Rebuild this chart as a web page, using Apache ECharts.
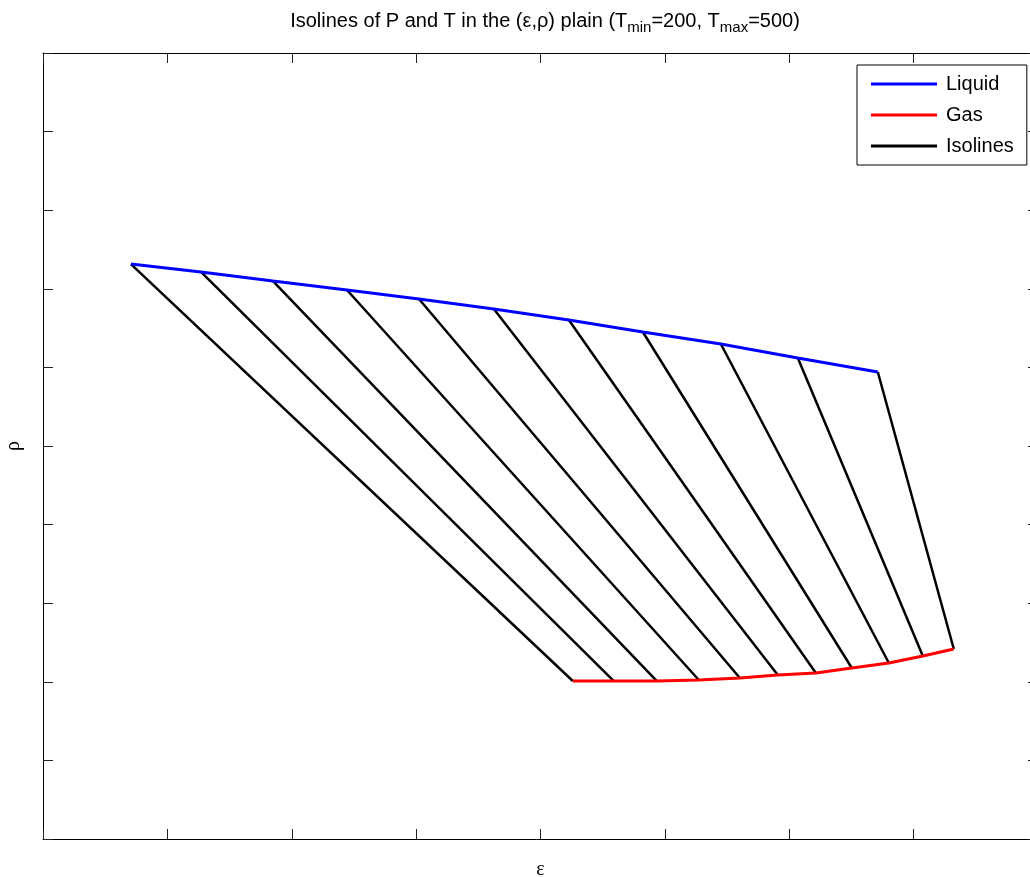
<!DOCTYPE html>
<html>
<head>
<meta charset="utf-8">
<script src="https://cdn.jsdelivr.net/npm/echarts@6/dist/echarts.min.js"></script>
<style>
  html, body { margin: 0; padding: 0; background: #fff; }
  #chart { width: 1030px; height: 877px; }
</style>
</head>
<body>
<div id="chart"></div>
<script>
// ends of the isolines on the liquid curve (eps, rho)
const liquidEps = [0.707, 1.270, 1.849, 2.444, 3.023, 3.625, 4.228, 4.823, 5.450, 6.069, 6.712]
const liquidRho = [7.315, 7.214, 7.099, 6.985, 6.870, 6.743, 6.603, 6.450, 6.298, 6.120, 5.941]
// ends of the isolines on the gas curve (eps, rho)
const gasEps = [4.260, 4.590, 4.936, 5.273, 5.603, 5.908, 6.214, 6.503, 6.801, 7.074, 7.323]
const gasRho = [2.010, 2.010, 2.010, 2.023, 2.048, 2.087, 2.112, 2.176, 2.239, 2.328, 2.417]

const liquid = liquidEps.map((x, i) => [x, liquidRho[i]])
const gas = gasEps.map((x, i) => [x, gasRho[i]])

const chart = echarts.init(document.getElementById('chart'))

function frameAxis(position, max) {
  return {
    type: 'value',
    position: position,
    min: 0,
    max: max,
    interval: 1,
    axisLine: { show: true, onZero: false, lineStyle: { color: '#000', width: 1 } },
    axisTick: { show: true, inside: true, length: 10, lineStyle: { color: '#222' } },
    axisLabel: { show: false },
    splitLine: { show: false },
  }
}

const series = [
  {
    name: 'Liquid',
    type: 'line',
    data: liquid,
    symbol: 'none',
    z: 5,
    lineStyle: { color: '#0000ff', width: 3 },
    itemStyle: { color: '#0000ff' },
  },
  {
    name: 'Gas',
    type: 'line',
    data: gas,
    symbol: 'none',
    z: 5,
    lineStyle: { color: '#ff0000', width: 3 },
    itemStyle: { color: '#ff0000' },
  },
]
// one black segment per isoline
liquid.forEach((p, i) => {
  series.push({
    name: 'Isolines',
    type: 'line',
    data: [p, gas[i]],
    symbol: 'none',
    z: 3,
    lineStyle: { color: '#000', width: 2.5 },
    itemStyle: { color: '#000' },
  })
})

const xBottom = frameAxis('bottom', 8)
xBottom.name = 'ε'
xBottom.nameLocation = 'middle'
xBottom.nameGap = 21
xBottom.nameTextStyle = { fontFamily: 'Liberation Serif', fontSize: 20, color: '#000' }
const yLeft = frameAxis('left', 10)
yLeft.name = 'ρ'
yLeft.nameLocation = 'middle'
yLeft.nameRotate = 90
yLeft.nameGap = 19
yLeft.nameTextStyle = { fontFamily: 'Liberation Serif', fontSize: 20, color: '#000' }

const option = {
  animation: false,
  backgroundColor: '#fff',
  title: {
    text: 'Isolines of P and T in the (ε,ρ) plain (T{s|min}=200, T{s|max}=500)',
    left: 540,
    textAlign: 'center',
    top: 3,
    textStyle: {
      fontFamily: 'Liberation Sans',
      fontSize: 20,
      fontWeight: 'normal',
      color: '#000',
      rich: {
        s: { fontFamily: 'Liberation Sans', fontSize: 15, color: '#000', padding: [12, 0, 0, 0] },
      },
    },
  },
  legend: {
    orient: 'vertical',
    left: 857,
    top: 65,
    padding: [9, 13, 9, 14],
    itemGap: 11,
    itemWidth: 66,
    itemHeight: 3,
    icon: 'rect',
    borderColor: '#000',
    borderWidth: 1,
    borderRadius: 0,
    backgroundColor: '#fff',
    data: ['Liquid', 'Gas', 'Isolines'],
    textStyle: { fontFamily: 'Liberation Sans', fontSize: 20, color: '#000', lineHeight: 20, padding: [0, 0, 0, 4] },
  },
  grid: { left: 43, top: 53, width: 995, height: 786, outerBoundsMode: 'none', containLabel: false },
  xAxis: [xBottom, frameAxis('top', 8)],
  yAxis: [yLeft, frameAxis('right', 10)],
  series: series,
}
chart.setOption(option)
</script>
</body>
</html>
